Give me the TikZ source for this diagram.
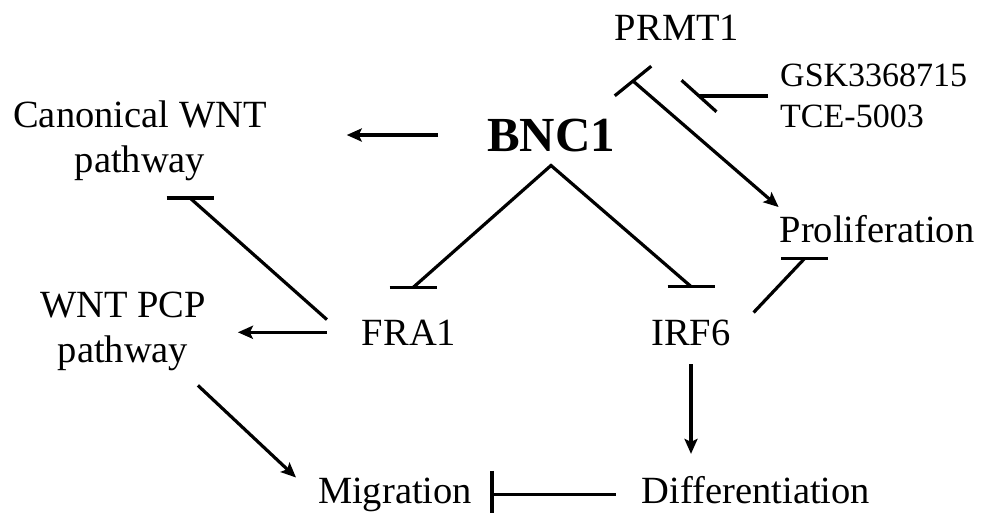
\documentclass[tikz,border=0pt]{standalone}
\usepackage{fontspec}
\setmainfont{Liberation Serif}
\usetikzlibrary{positioning, arrows.meta}

\begin{document}
\begin{tikzpicture}[x=1pt, y=1pt,
    lbl/.style={inner sep=0pt, outer sep=0pt, anchor=base, font=\fontsize{38.5}{45}\selectfont},
    block/.style={inner sep=0pt, outer sep=0pt, align=center, font=\fontsize{38.5}{45}\selectfont},
    link/.style={line width=3.2pt},
    act/.style={link, -{Stealth[length=15pt, width=13pt, inset=3pt]}},
    tee/.style={line width=3.2pt}]
  \useasboundingbox (0,0) rectangle (982,-512);

  % labels
  \node[lbl, font=\fontsize{49}{55}\selectfont\bfseries] (bnc) at (551,-151) {BNC1};
  \node[lbl] (prmt) at (677,-40) {PRMT1};
  \node[inner sep=0pt, anchor=west, align=left, font=\fontsize{34}{41}\selectfont]
    (drug) at (780,-96) {GSK3368715\\TCE-5003};
  \node[block] (canon) at (140,-141) {Canonical WNT\\pathway};
  \node[block] (pcp) at (123,-331) {WNT PCP\\pathway};
  \node[lbl] (prolif) at (877,-242) {Proliferation};
  \node[lbl] (fra) at (409,-345) {FRA1};
  \node[lbl] (irf) at (691,-345) {IRF6};
  \node[lbl] (mig) at (395,-503) {Migration};
  \node[lbl] (diff) at (756,-503) {Differentiation};

  % free ends of the inhibitions
  \coordinate[below=14pt of bnc] (apex);
  \coordinate[above=32pt of fra, xshift=4pt] (fraend);
  \coordinate[above=33pt of irf] (irfend);
  \coordinate (prmtend) at ([xshift=-44pt, yshift=-41pt]prmt.base);
  \coordinate (gskend) at ([xshift=-81pt]drug.west);
  \coordinate (canonend) at ([xshift=50pt, yshift=-17pt]canon.south);
  \coordinate (prolifend) at ([xshift=25pt, yshift=-16pt]prolif.south west);
  \coordinate (migend) at ([xshift=20pt]mig.east);

  % BNC1
  \draw[act, shorten <=49pt, shorten >=80pt] (bnc.west) -- (bnc.west -| canon.east);
  \draw[link] (fraend) -- (apex) -- (irfend);
  \draw[tee] (fraend) ++(-23.5pt,0) -- ++(47pt,0);
  \draw[tee] (irfend) ++(-23.5pt,0) -- ++(47pt,0);

  % PRMT1 and its inhibitors
  \draw[act, shorten >=12pt] (prmtend) -- ([xshift=8pt]prolif.north west);
  \draw[tee] (prmtend) ++(219:23.5pt) -- ++(39:47pt);
  \draw[link, shorten <=12pt] (drug.west) -- (gskend);
  \draw[tee] (gskend) ++(138:23.5pt) -- ++(-42:47pt);

  % FRA1
  \draw[link] ([xshift=-35pt]fra.north west) -- (canonend);
  \draw[tee] (canonend) ++(-23.5pt,0) -- ++(47pt,0);
  \draw[act, shorten <=35pt, shorten >=32pt] (fra.west) -- (fra.west -| pcp.east);
  \draw[act] ([xshift=-8pt, yshift=-15pt]pcp.south east) -- ([xshift=-22pt]mig.north west);

  % IRF6
  \draw[act, shorten <=19pt, shorten >=22pt] (irf.south) -- (irf.south |- diff.north);
  \draw[link] ([xshift=23pt, yshift=7pt]irf.north east) -- (prolifend);
  \draw[tee] (prolifend) ++(-23.5pt,0) -- ++(47pt,0);
  \draw[link, shorten <=26pt] (mig.east -| diff.west) -- (migend);
  \draw[tee] (migend) ++(0,23.5pt) -- ++(0,-47pt);
\end{tikzpicture}
\end{document}
